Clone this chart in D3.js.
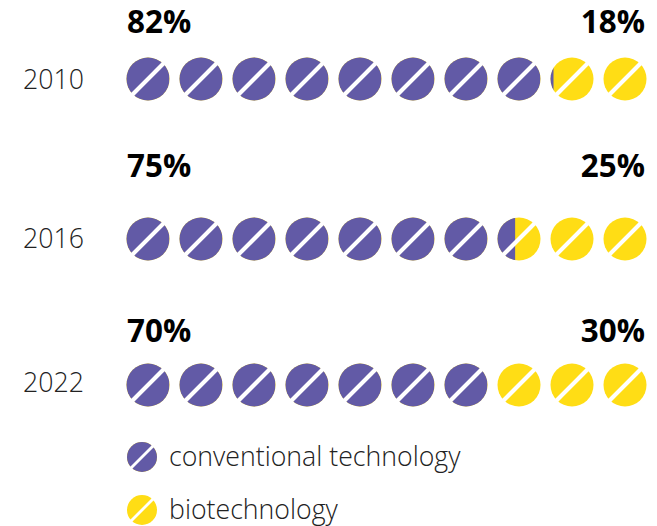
<!DOCTYPE html>
<html>
<head>
<meta charset="utf-8">
<script src="https://cdn.jsdelivr.net/npm/d3@7"></script>
<style>
  html, body { margin: 0; padding: 0; background: #fff; }
  text { font-family: "Open Sans", sans-serif; }
</style>
</head>
<body>
<div id="chart"></div>
<script>
const width = 657;
const height = 526;

const years = ["2010", "2016", "2022"];
const conventional = [82, 75, 70];
const biotech = [18, 25, 30];
// how many circles are purple (the splits don't follow the labels exactly)
const purpleCircles = [8.07, 7.41, 7];
const legendLabels = ["conventional technology", "biotechnology"];

const purple = "#625aa6";
const yellow = "#ffdd15";
const iconCount = 10;
const radius = 21.5;

const svg = d3
  .select("#chart")
  .append("svg")
  .attr("width", width)
  .attr("height", height)
  .style("display", "block");

const x = d3.scalePoint().domain(d3.range(iconCount)).range([148, 625]);
const y = d3.scaleOrdinal().domain(years).range([79, 239, 385]);
const yearY = d3.scaleOrdinal().domain(years).range([89, 248, 392]);
const percentY = d3.scaleOrdinal().domain(years).range([33, 177, 342]);

// one pill: yellow disc, purple part clipped from the left, white slash on top
function drawIcon(g, cx, cy, r, share, id) {
  g.append("circle").attr("cx", cx).attr("cy", cy).attr("r", r).attr("fill", yellow);

  if (share > 0) {
    svg
      .append("clipPath")
      .attr("id", id)
      .append("rect")
      .attr("x", cx - r - 1)
      .attr("y", cy - r - 1)
      .attr("width", share * 2 * r + 1)
      .attr("height", 2 * r + 2);

    g.append("circle")
      .attr("cx", cx)
      .attr("cy", cy)
      .attr("r", r)
      .attr("fill", purple)
      .attr("clip-path", `url(#${id})`);
  }

  const d = r * 0.8;
  g.append("line")
    .attr("x1", cx - d)
    .attr("y1", cy + d)
    .attr("x2", cx + d)
    .attr("y2", cy - d)
    .attr("stroke", "#fff")
    .attr("stroke-width", r * 0.19);
}

years.forEach((year, row) => {
  const g = svg.append("g").attr("class", "row");
  const cy = y(year);

  g.append("text")
    .attr("x", 84)
    .attr("y", yearY(year))
    .attr("text-anchor", "end")
    .attr("font-size", 26.7)
    .attr("font-weight", 300)
    .attr("fill", "#222")
    .text(year);

  g.append("text")
    .attr("x", 127)
    .attr("y", percentY(year))
    .attr("font-size", 31.4)
    .attr("font-weight", 700)
    .attr("fill", "#000")
    .text(conventional[row] + "%");

  g.append("text")
    .attr("x", 645)
    .attr("y", percentY(year))
    .attr("text-anchor", "end")
    .attr("font-size", 31.4)
    .attr("font-weight", 700)
    .attr("fill", "#000")
    .text(biotech[row] + "%");

  d3.range(iconCount).forEach((i) => {
    const share = Math.max(0, Math.min(1, purpleCircles[row] - i));
    drawIcon(g, x(i), cy, radius, share, `clip-${row}-${i}`);
  });
});

const legendY = d3.scalePoint().domain(legendLabels).range([457, 510]);

legendLabels.forEach((label, i) => {
  const g = svg.append("g").attr("class", "legend");
  drawIcon(g, 142, legendY(label), 15, i === 0 ? 1 : 0, `legend-${i}`);

  g.append("text")
    .attr("x", 169)
    .attr("y", legendY(label) + 9)
    .attr("font-size", 26.7)
    .attr("font-weight", 300)
    .attr("fill", "#222")
    .text(label);
});
</script>
</body>
</html>
